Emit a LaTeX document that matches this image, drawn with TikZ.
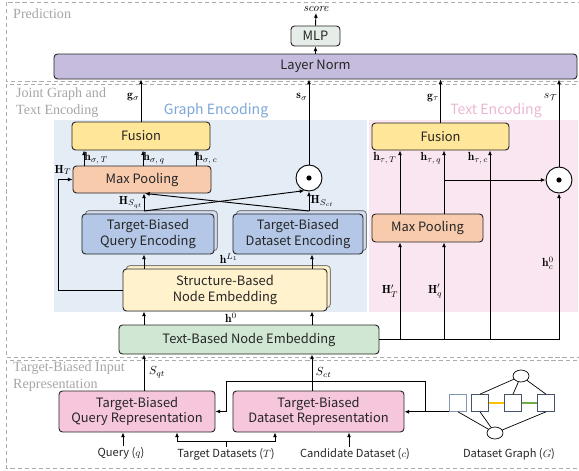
\documentclass[tikz,border=0pt]{standalone}
\usepackage{fontspec}
\setsansfont{Noto Sans CJK SC}
\newfontfamily\regfont{Liberation Serif}
\usetikzlibrary{arrows.meta,shadows,shapes.geometric}
\definecolor{lnpurple}{HTML}{C6BDDE}
\definecolor{mlpgray}{HTML}{E6ECE8}
\definecolor{fusecol}{HTML}{FFE699}
\definecolor{poolcol}{HTML}{F8CBAD}
\definecolor{enccol}{HTML}{B4C7E7}
\definecolor{structcol}{HTML}{FFF2CC}
\definecolor{textembcol}{HTML}{D0E7D3}
\definecolor{repcol}{HTML}{F6C6DD}
\definecolor{gbgcol}{HTML}{E4ECF6}
\definecolor{tbgcol}{HTML}{F9E6F0}
\definecolor{gtitle}{HTML}{7CA6D8}
\definecolor{ttitle}{HTML}{EBB6D3}
\definecolor{sqdark}{HTML}{44546A}
\definecolor{sqlight}{HTML}{8497B0}
\definecolor{edgeyellow}{HTML}{FFC000}
\definecolor{edgegreen}{HTML}{70AD47}
\begin{document}
\begin{tikzpicture}[x=0.03cm,y=-0.03cm,
  box/.style={draw=black!85,line width=0.8pt,rounded corners=3pt,align=center,
    inner sep=0pt,text=black!85,font=\sffamily\fontsize{11}{13}\selectfont},
  stack/.style={copy shadow={shadow xshift=0.1cm,shadow yshift=0.1cm,draw=gray,fill=#1}},
  arr/.style={-{Latex[length=4pt,width=3.5pt]},line width=0.8pt},
  region/.style={draw=gray!65,dashed,dash pattern=on 3.5pt off 2.5pt,line width=0.8pt},
  reglab/.style={anchor=north west,align=left,inner sep=0pt,text=gray!70,
    font=\regfont\fontsize{12}{14.5}\selectfont},
  title/.style={font=\sffamily\fontsize{12}{14}\selectfont},
  lab/.style={inner sep=1pt},
  inp/.style={inner sep=1pt,text=black!85,font=\sffamily\fontsize{9.5}{11}\selectfont},
  dotc/.style={draw,circle,minimum size=0.78cm,line width=0.8pt,fill=white},
  gsq/.style={draw=sqdark,line width=0.8pt,fill=white,minimum size=0.5cm,inner sep=0pt},
  gell/.style={draw,ellipse,line width=0.6pt,fill=white,minimum width=0.48cm,minimum height=0.36cm,inner sep=0pt}]
\useasboundingbox (0,0) rectangle (579,471);
\fill[gbgcol] (54,120) rectangle (367,312);
\fill[tbgcol] (369,120) rectangle (578,312);
\draw[region] (6,2) rectangle (584,81);
\draw[region] (6,84) rectangle (584,357);
\draw[region] (6,360) rectangle (584,468);
\node[reglab] at (13,9) {Prediction};
\node[reglab] at (16,88) {Joint Graph and\\Text Encoding};
\node[reglab] at (13,362) {Target-Biased Input\\Representation};
\node[title,text=gtitle] at (216,111) {Graph Encoding};
\node[title,text=ttitle] at (496,111) {Text Encoding};

\node[box,fill=lnpurple,minimum width=15.69cm,minimum height=0.75cm] (ln) at (315.5,66.5) {Layer Norm};
\node[box,fill=mlpgray,minimum width=1.47cm,minimum height=0.6cm] (mlp) at (315.5,36) {MLP};
\node[lab] (score) at (316,9) {\textit{score}};

\node[box,fill=fusecol,minimum width=4.14cm,minimum height=0.84cm] (fg) at (141,136) {Fusion};
\node[box,fill=poolcol,minimum width=4.14cm,minimum height=0.81cm] (mpg) at (142,179.5) {Max Pooling};
\node[box,fill=enccol,stack=enccol!60,minimum width=3.96cm,minimum height=1.2cm] (qe) at (148,234) {Target-Biased\\Query Encoding};
\node[box,fill=enccol,stack=enccol!60,minimum width=3.9cm,minimum height=1.2cm] (de) at (298,234) {Target-Biased\\Dataset Encoding};
\node[box,fill=structcol,stack=structcol,minimum width=6.12cm,minimum height=1.26cm] (sn) at (225,290) {Structure-Based\\Node Embedding};
\node[box,fill=textembcol,minimum width=7.8cm,minimum height=0.87cm] (tn) at (249,339.5) {Text-Based Node Embedding};
\node[dotc] (cg) at (309,178) {};
\fill (cg) circle (2.2pt);

\node[box,fill=fusecol,minimum width=4.11cm,minimum height=0.81cm] (ft) at (440.5,136.5) {Fusion};
\node[box,fill=poolcol,minimum width=3.33cm,minimum height=0.84cm] (mpt) at (427.5,228) {Max Pooling};
\node[dotc] (ct) at (559,180) {};
\fill (ct) circle (2.2pt);

\node[box,fill=repcol,minimum width=4.68cm,minimum height=1.23cm] (qr) at (137,411.5) {Target-Biased\\Query Representation};
\node[box,fill=repcol,minimum width=5.13cm,minimum height=1.23cm] (dr) at (318.5,411.5) {Target-Biased\\Dataset Representation};
\node[inp] (q) at (121,453) {Query ($q$)};
\node[inp] (t) at (226,454) {Target Datasets ($T$)};
\node[inp] (c) at (355,454) {Candidate Dataset ($c$)};
\node[inp] (g) at (509,454) {Dataset Graph ($G$)};

\node[gsq,draw=sqlight] (s1) at (458,403) {};
\node[gsq] (s2) at (480,403) {};
\node[gsq] (s3) at (513,403) {};
\node[gsq] (s4) at (546,403) {};
\node[gell] (e1) at (521,376) {};
\node[gell] (e2) at (495,433) {};
\draw[line width=0.6pt] (e1) -- (s2.north) (e1) -- (s3.north) (e1) -- (s4.north)
  (e2) -- (s1.south) (e2) -- (s2.south) (e2) -- (s4.south);
\draw[edgeyellow,line width=1.6pt] (s2) -- (s3);
\draw[edgegreen,line width=1.6pt] (s3) -- (s4);

\draw[arr] (mlp.south |- ln.north) -- (mlp.south);
\draw[arr] (mlp.north) -- (score.south);

\draw[arr] (q.north -| 123,0) -- (123,0 |- qr.south);
\draw[arr] (t.north) |- (177,441) -- (177,0 |- qr.south);
\draw[arr] (t.north) |- (275,441) -- (275,0 |- dr.south);
\draw[arr] (c.north -| 349,0) -- (349,0 |- dr.south);
\draw[arr] (s1.south west) -- (s1.south west -| dr.east);
\draw[arr] (s1.south west -| 425,0) |- (226,381) |- (qr.east);

\draw[arr] (144,0 |- qr.north) -- (144,0 |- tn.south) node[lab,midway,right=3pt] {$S_{qt}$};
\draw[arr] (312,0 |- dr.north) -- (312,0 |- tn.south) node[lab,midway,right=2pt] {$S_{ct}$};
\draw[arr] (144,0 |- tn.north) -- (144,0 |- sn.south);
\draw[arr] (312,0 |- tn.north) -- (312,0 |- sn.south);
\node[lab] at (231,318) {$\mathbf{h}^0$};
\draw[arr] (144,0 |- sn.north) -- (144,0 |- qe.south);
\draw[arr] (312,0 |- sn.north) -- (312,0 |- de.south);
\node[lab] at (229,259) {$\mathbf{h}^{L_1}$};

\coordinate (qtop) at (144,211);
\coordinate (dtop) at (309,211);
\draw[arr] (qtop) -- (qtop |- mpg.south) node[lab,midway,left] {$\mathbf{H}_{S_{qt}}$};
\draw[arr] (qtop) -- (cg.250);
\draw[arr] (dtop) -- (cg.south) node[lab,midway,right] {$\mathbf{H}_{S_{ct}}$};
\draw[arr] (dtop) -- (145,0 |- mpg.south);
\draw[arr] (sn.west) -| (58,179.5) -- (mpg.west);
\node[lab] at (63,170) {$\mathbf{H}_T$};

\draw[arr] (84,0 |- mpg.north) -- (84,0 |- fg.south) node[lab,midway,right=-1pt] {$\mathbf{h}_{\sigma,\,T}$};
\draw[arr] (143,0 |- mpg.north) -- (143,0 |- fg.south) node[lab,midway,right=-1pt] {$\mathbf{h}_{\sigma,\,q}$};
\draw[arr] (196,0 |- mpg.north) -- (196,0 |- fg.south) node[lab,midway,right=-1pt] {$\mathbf{h}_{\sigma,\,c}$};
\draw[arr] (fg.north) -- (fg.north |- ln.south) node[lab,pos=0.58,left] {$\mathbf{g}_\sigma$};
\draw[arr] (cg.north) -- (cg.north |- ln.south) node[lab,pos=0.8,left] {$\mathbf{s}_\sigma$};

\draw[line width=0.8pt] (tn.east) -- (ct.south |- tn.east);
\draw[arr] (400,0 |- tn.east) -- (400,0 |- mpt.south) node[lab,midway,left] {$\mathbf{H}'_T$};
\draw[arr] (444,0 |- tn.east) -- (444,0 |- mpt.south) node[lab,midway,left] {$\mathbf{H}'_q$};
\draw[arr] (490,0 |- tn.east) -- (490,0 |- ft.south);
\draw[arr] (ct.south |- tn.east) -- (ct.south);
\node[lab] at (548,263) {$\mathbf{h}^0_c$};
\draw[arr] (400,0 |- mpt.north) -- (400,0 |- ft.south);
\draw[arr] (444,0 |- mpt.north) -- (444,0 |- ft.south);
\draw[arr] (444,0 |- ct.west) -- (ct.west);
\node[lab] at (385,158) {$\mathbf{h}_{\tau,\,T}$};
\node[lab] at (431,158) {$\mathbf{h}_{\tau,\,q}$};
\node[lab] at (478,158) {$\mathbf{h}_{\tau,\,c}$};
\draw[arr] (ft.north) -- (ft.north |- ln.south) node[lab,pos=0.58,left] {$\mathbf{g}_\tau$};
\draw[arr] (ct.north) -- (ct.north |- ln.south) node[lab,pos=0.8,left] {$s_{\mathcal{T}}$};
\end{tikzpicture}
\end{document}
